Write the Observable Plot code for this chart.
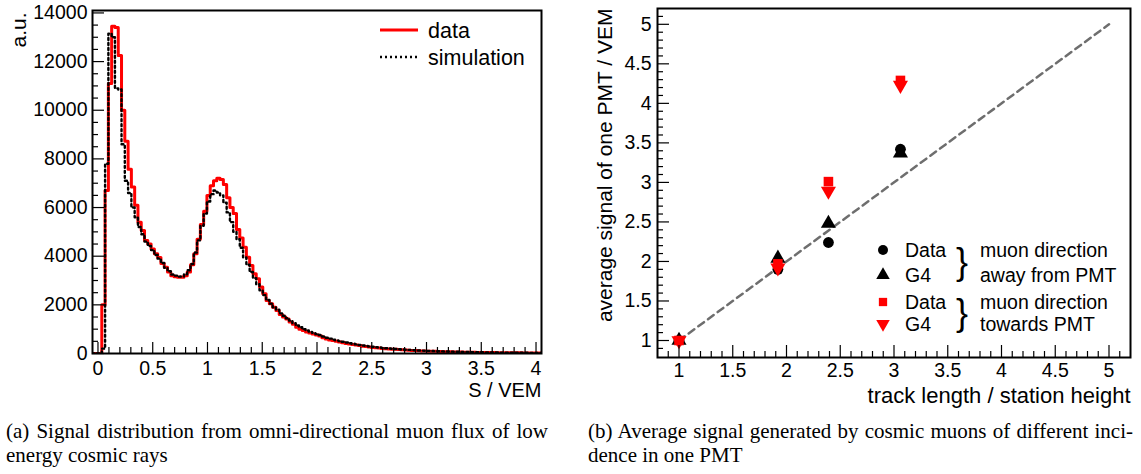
<!DOCTYPE html>
<html><head><meta charset="utf-8">
<script src="https://cdn.jsdelivr.net/npm/d3@7"></script>
<script src="https://cdn.jsdelivr.net/npm/@observablehq/plot@0.6"></script>
<style>
html,body{margin:0;padding:0;background:#fff;}
body{width:1141px;height:474px;overflow:hidden;position:relative;font-family:"Liberation Sans",Arial,sans-serif;}
#pa{position:absolute;left:0;top:0;width:560px;height:410px;}
#pb{position:absolute;left:560px;top:0;width:581px;height:410px;}
.cap{position:absolute;font-family:"Liberation Serif","Times New Roman",serif;font-size:21px;line-height:24px;color:#000;white-space:nowrap;}
.just{text-align:justify;text-align-last:justify;white-space:normal;}
</style></head><body>
<div id="pa"></div><div id="pb"></div>
<div class="cap" style="left:6px;top:419px;">
  <div class="just" style="width:542px;">(a) Signal distribution from omni-directional muon flux of low</div>
  <div>energy cosmic rays</div>
</div>
<div class="cap" style="left:588px;top:419px;">
  <div class="just" style="width:545px;">(b) Average signal generated by cosmic muons of different inci-</div>
  <div>dence in one PMT</div>
</div>
<script>
// ---------- Panel (a): histogram of S / VEM ----------
const binStart = -0.055;
const binWidth = 0.03;
const dataCounts = [
  0,0,0,2000,6700,11100,13450,13400,12250,10000,
  8730,7570,6840,6090,5400,5060,4650,4500,4300,4100,
  3950,3700,3550,3350,3200,3150,3130,3130,3200,3350,
  3650,4100,4700,5300,5850,6500,6900,7100,7200,7150,
  6950,6400,6000,5750,5100,4750,4370,3960,3620,3280,
  3070,2730,2455,2180,2050,1900,1770,1600,1500,1420,
  1300,1200,1080,1000,950,880,840,800,760,720,
  650,600,560,530,500,470,440,415,395,370,
  350,330,300,285,270,250,240,225,210,200,
  190,175,170,160,150,140,135,125,120,110,
  105,100,95,90,88,82,78,75,70,68,
  64,60,58,55,52,50,47,45,44,42,
  40,38,36,35,33,32,30,29,28,27,
  26,25,24,23,22,21,20];
const simCounts = [
  0,0,0,200,7800,13150,13000,10900,10850,8600,
  7100,6600,6000,5600,5200,4900,4600,4420,4250,4050,
  3900,3720,3520,3380,3250,3200,3160,3170,3260,3420,
  3680,4150,4650,5250,5750,6250,6550,6700,6620,6500,
  6200,5800,5400,5000,4700,4350,3950,3650,3350,3100,
  2850,2600,2400,2200,2050,1900,1800,1650,1550,1450,
  1350,1250,1150,1080,1000,950,890,850,800,760,
  700,650,610,570,540,510,480,450,420,400,
  375,350,330,310,290,275,260,245,230,215,
  205,195,185,175,165,155,148,140,132,125,
  120,114,108,102,98,93,88,84,80,76,
  72,69,66,63,60,57,55,52,50,48,
  46,44,42,40,38,37,35,34,32,31,
  30,29,28,27,26,25,24];
const xTicksA = [0, 0.5, 1, 1.5, 2, 2.5, 3, 3.5, 4];
const yTicksA = [0, 2000, 4000, 6000, 8000, 10000, 12000, 14000];
const xMinorA = d3.range(1, 41).filter(i => i % 5 !== 0).map(i => i / 10);
const yMinorA = d3.range(1, 28).filter(i => i % 4 !== 0).map(i => i * 500);
const legendA = ["data", "simulation"];

function steps(counts) {
  const pts = counts.map((v, i) => ({x: binStart + i * binWidth, y: v}));
  pts.push({x: binStart + counts.length * binWidth, y: counts[counts.length - 1]});
  return pts;
}

const FONT = "Liberation Sans, Arial, Helvetica, sans-serif";
const A = {w: 560, h: 410, l: 92, r: 19, t: 10, b: 57};
const aIW = A.w - A.l - A.r, aIH = A.h - A.t - A.b;
const SIM_DASH = "2,3";

const plotA = Plot.plot({
  width: A.w, height: A.h,
  marginLeft: A.l, marginRight: A.r, marginTop: A.t, marginBottom: A.b,
  style: {fontFamily: FONT, background: "white", overflow: "visible", color: "#000"},
  x: {domain: [-0.05, 4.05]},
  y: {domain: [0, 14100]},
  marks: [
    Plot.lineY(steps(dataCounts), {x: "x", y: "y", curve: "step-after", stroke: "#ff0000", strokeWidth: 3, clip: true}),
    Plot.lineY(steps(simCounts), {x: "x", y: "y", curve: "step-after", stroke: "#000", strokeWidth: 2.4, strokeDasharray: SIM_DASH, clip: true}),
    Plot.tickX(xMinorA, {x: d => d, insetTop: aIH - 6, strokeWidth: 1.2}),
    Plot.tickX(xTicksA, {x: d => d, insetTop: aIH - 11, strokeWidth: 1.2}),
    Plot.tickY(yMinorA, {y: d => d, insetRight: aIW - 6, strokeWidth: 1.2}),
    Plot.tickY(yTicksA, {y: d => d, insetRight: aIW - 12, strokeWidth: 1.2}),
    Plot.axisX(xTicksA, {tickSize: 0, tickPadding: 8, fontSize: 19.5, tickFormat: d => String(d), label: null}),
    Plot.axisY(yTicksA, {tickSize: 0, tickPadding: 5, fontSize: 19.5, tickFormat: d => String(d), label: null}),
    Plot.frame({stroke: "#000", strokeWidth: 2}),
    Plot.text(["S / VEM"], {frameAnchor: "bottom-right", dy: 43, textAnchor: "end", fontSize: 20}),
    Plot.text(["a.u."], {frameAnchor: "top-left", dx: -81, dy: 2, rotate: -90, textAnchor: "end", fontSize: 21})
  ]
});
document.getElementById("pa").appendChild(plotA);
{
  const g = d3.select(plotA).append("g").attr("font-family", FONT).attr("font-size", 21.5).attr("text-anchor", "start");
  g.append("line").attr("x1", 380).attr("x2", 418).attr("y1", 30).attr("y2", 30).attr("stroke", "#ff0000").attr("stroke-width", 3);
  g.append("line").attr("x1", 380).attr("x2", 418).attr("y1", 57).attr("y2", 57).attr("stroke", "#000").attr("stroke-width", 2.4).attr("stroke-dasharray", SIM_DASH);
  g.append("text").attr("x", 428).attr("y", 30).attr("dy", "0.35em").text(legendA[0]);
  g.append("text").attr("x", 428).attr("y", 57).attr("dy", "0.35em").text(legendA[1]);
}

// ---------- Panel (b): average signal vs track length ----------
const trackLength = [1, 1.92, 2.39, 3.06];
const awayData = [1.0, 1.90, 2.24, 3.42];
const awayG4 = [1.0, 2.04, 2.48, 3.37];
const towardsData = [1.0, 1.97, 3.01, 4.29];
const towardsG4 = [1.0, 1.92, 2.89, 4.23];
const guideX = [1, 5];
const guideY = [1, 5];
const xTicksB = [1, 1.5, 2, 2.5, 3, 3.5, 4, 4.5, 5];
const yTicksB = [1, 1.5, 2, 2.5, 3, 3.5, 4, 4.5, 5];
const minorB = d3.range(9, 52).filter(i => i % 5 !== 0).map(i => i / 10);
const legendB = ["Data", "G4", "Data", "G4"];
const groupB = ["muon direction", "away from PMT", "muon direction", "towards PMT"];

const sqrt3 = Math.sqrt(3);
const triangleDown = {
  draw(context, size) {
    const y = -Math.sqrt(size / (sqrt3 * 3));
    context.moveTo(0, -y * 2);
    context.lineTo(-sqrt3 * y, y);
    context.lineTo(sqrt3 * y, y);
    context.closePath();
  }
};

const B = {w: 581, h: 410, l: 97, r: 11, t: 8, b: 53};
const bIW = B.w - B.l - B.r, bIH = B.h - B.t - B.b;

const plotB = Plot.plot({
  width: B.w, height: B.h,
  marginLeft: B.l, marginRight: B.r, marginTop: B.t, marginBottom: B.b,
  style: {fontFamily: FONT, background: "white", overflow: "visible", color: "#000"},
  x: {domain: [0.8, 5.2]},
  y: {domain: [0.785, 5.2]},
  marks: [
    Plot.line(guideX, {x: d => d, y: (d, i) => guideY[i], stroke: "#6e6e6e", strokeWidth: 2.5, strokeDasharray: "7,5"}),
    Plot.dot(trackLength, {x: d => d, y: (d, i) => awayG4[i], symbol: "triangle", fill: "#000", r: 5.6}),
    Plot.dot(trackLength, {x: d => d, y: (d, i) => awayData[i], symbol: "circle", fill: "#000", r: 5.4}),
    Plot.dot(trackLength, {x: d => d, y: (d, i) => towardsG4[i], symbol: triangleDown, fill: "#ff0000", r: 5.6}),
    Plot.dot(trackLength, {x: d => d, y: (d, i) => towardsData[i], symbol: "square", fill: "#ff0000", r: 5.4}),
    Plot.tickX(minorB, {x: d => d, insetTop: bIH - 6, strokeWidth: 1.2}),
    Plot.tickX(xTicksB, {x: d => d, insetTop: bIH - 12, strokeWidth: 1.2}),
    Plot.tickY(minorB, {y: d => d, insetRight: bIW - 6, strokeWidth: 1.2}),
    Plot.tickY(yTicksB, {y: d => d, insetRight: bIW - 12, strokeWidth: 1.2}),
    Plot.axisX(xTicksB, {tickSize: 0, tickPadding: 6, fontSize: 19.5, tickFormat: d => String(d), label: null}),
    Plot.axisY(yTicksB, {tickSize: 0, tickPadding: 6, fontSize: 19.5, tickFormat: d => String(d), label: null}),
    Plot.frame({stroke: "#000", strokeWidth: 2}),
    Plot.text(["track length / station height"], {frameAnchor: "bottom-right", dy: 45, textAnchor: "end", fontSize: 22}),
    Plot.text(["average signal of one PMT / VEM"], {frameAnchor: "top-left", dx: -60, dy: 0, rotate: -90, textAnchor: "end", fontSize: 21})
  ]
});
document.getElementById("pb").appendChild(plotB);
{
  const g = d3.select(plotB).append("g").attr("font-family", FONT).attr("font-size", 19.5).attr("text-anchor", "start");
  const rows = [250, 275, 302, 324];
  const mx = 323;
  const sym = [d3.symbolCircle, d3.symbolTriangle, d3.symbolSquare, triangleDown];
  const sizes = [Math.PI * 5.4 * 5.4 * 0.85, Math.PI * 5.6 * 5.6 * 0.8, Math.PI * 5.4 * 5.4 * 0.75, Math.PI * 5.6 * 5.6 * 0.8];
  const cols = ["#000", "#000", "#ff0000", "#ff0000"];
  rows.forEach((y, i) => {
    g.append("path").attr("d", d3.symbol(sym[i], sizes[i])()).attr("transform", `translate(${mx},${y})`).attr("fill", cols[i]);
    g.append("text").attr("x", 345).attr("y", y).attr("dy", "0.35em").text(legendB[i]);
    g.append("text").attr("x", 420).attr("y", y).attr("dy", "0.35em").text(groupB[i]);
  });
  [[250, 275], [302, 324]].forEach(([a, b]) => {
    g.append("text").attr("x", 402).attr("y", (a + b) / 2).attr("dy", "0.33em").attr("text-anchor", "middle")
      .attr("font-size", 36).attr("font-weight", 300).text("}");
  });
}
</script>
</body></html>
